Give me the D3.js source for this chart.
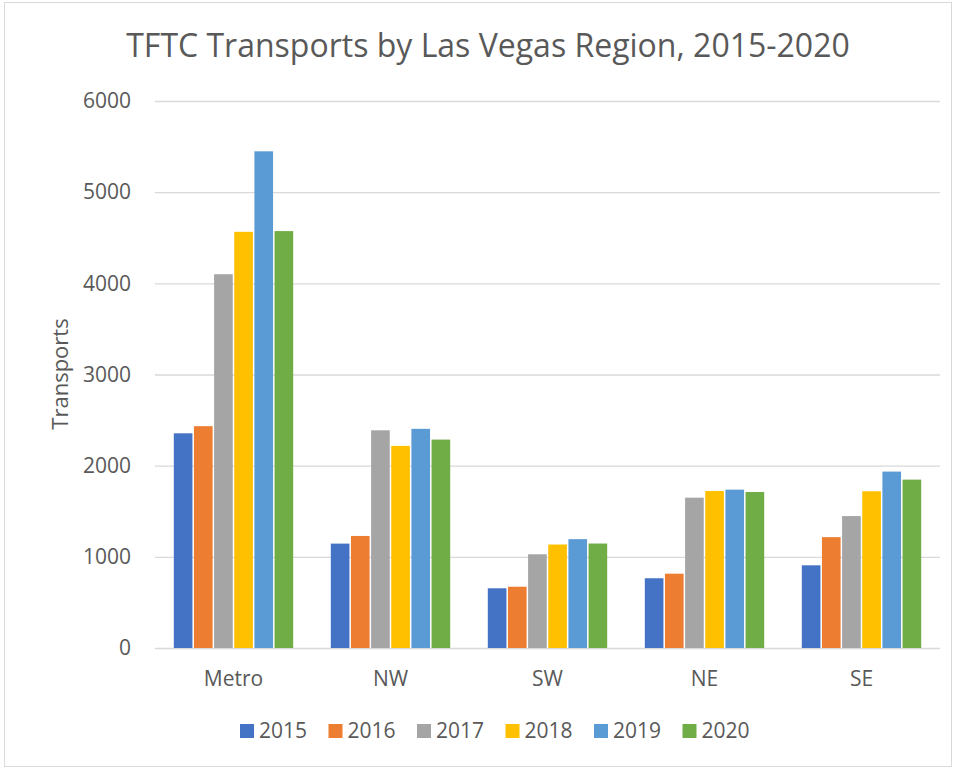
<!DOCTYPE html>
<html><head><meta charset="utf-8">
<script src="https://cdn.jsdelivr.net/npm/d3@7"></script>
<style>body{margin:0;background:#fff;} text{font-family:"Open Sans","Noto Sans",sans-serif;fill:#595959;}</style>
</head><body>
<svg id="chart" width="956" height="769"></svg>
<script>
const regions = ["Metro", "NW", "SW", "NE", "SE"];
const years = ["2015", "2016", "2017", "2018", "2019", "2020"];
const colors = ["#4472C4", "#ED7D31", "#A5A5A5", "#FFC000", "#5B9BD5", "#70AD47"];
const v2015 = [2355, 1145, 655, 765, 907];
const v2016 = [2433, 1229, 672, 815, 1216];
const v2017 = [4100, 2388, 1028, 1649, 1447];
const v2018 = [4565, 2217, 1135, 1722, 1719];
const v2019 = [5448, 2404, 1194, 1737, 1935];
const v2020 = [4573, 2286, 1146, 1711, 1847];
const series = [v2015, v2016, v2017, v2018, v2019, v2020];
const yTicks = [0, 1000, 2000, 3000, 4000, 5000, 6000];

const svg = d3.select("#chart");
svg.append("rect").attr("x", 4.5).attr("y", 2.5).attr("width", 947).attr("height", 764)
  .attr("fill", "#fff").attr("stroke", "#d9d9d9");

const x0 = d3.scaleBand().domain(regions).range([155, 940]).paddingInner(0.23).paddingOuter(0.115);
const x1 = d3.scaleBand().domain(years).range([0, x0.bandwidth()]);
const y = d3.scaleLinear().domain([0, 6000]).range([648, 101]);

const yAxis = d3.axisLeft(y).tickValues(yTicks).tickSize(-(940 - 155)).tickPadding(24).tickFormat(d3.format("d"));
const gy = svg.append("g").attr("transform", "translate(155,0)").call(yAxis);
gy.select(".domain").remove();
gy.selectAll(".tick line").attr("stroke", "#d9d9d9").attr("stroke-width", 1.3);
gy.selectAll(".tick text").style("font-size", "21px").attr("fill", "#595959");

const xAxis = d3.axisBottom(x0).tickSize(0).tickPadding(23);
const gx = svg.append("g").attr("transform", "translate(0,648)").call(xAxis);
gx.select(".domain").remove();
gx.selectAll(".tick text").style("font-size", "21px").attr("fill", "#595959");

const groups = svg.append("g").selectAll("g").data(regions).join("g")
  .attr("transform", d => `translate(${x0(d)},0)`);
groups.selectAll("rect").data((r, i) => years.map((yr, j) => ({ yr, j, v: series[j][i] })))
  .join("rect")
  .attr("x", d => x1(d.yr) + 0.75)
  .attr("width", x1.bandwidth() - 1.5)
  .attr("y", d => y(d.v))
  .attr("height", d => y(0) - y(d.v))
  .attr("fill", d => colors[d.j]);

svg.append("text").attr("x", 488).attr("y", 57).attr("text-anchor", "middle")
  .style("font-size", "32px").text("TFTC Transports by Las Vegas Region, 2015-2020");

svg.append("text").attr("transform", "translate(68,374) rotate(-90)").attr("text-anchor", "middle")
  .style("font-size", "22px").text("Transports");

const legX = [240, 328.5, 417, 505.5, 594, 682.5];
const leg = svg.append("g").selectAll("g").data(years).join("g")
  .attr("transform", (d, i) => `translate(${legX[i]},731)`);
leg.append("rect").attr("x", 0).attr("y", -7).attr("width", 14).attr("height", 14).attr("fill", (d, i) => colors[i]);
leg.append("text").attr("x", 19).attr("y", 0).attr("dy", "0.35em").style("font-size", "21px").text(d => d);
</script>
</body></html>
